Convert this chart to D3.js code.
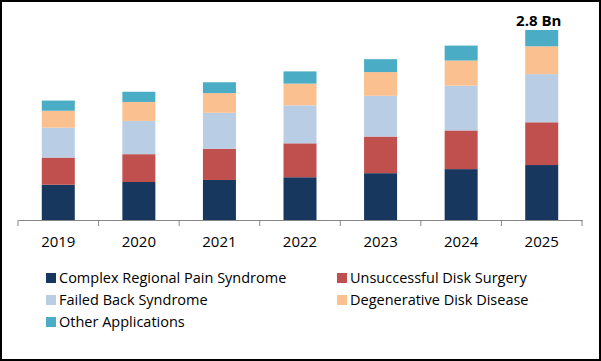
<!DOCTYPE html>
<html>
<head>
<meta charset="utf-8" />
<script src="https://d3js.org/d3.v7.min.js"></script>
<style>
  body { margin: 0; background: #fff; }
  svg text { font-family: "Open Sans", sans-serif; }
</style>
</head>
<body>
<div id="chart"></div>
<script>
// years on the x axis
var years = ["2019", "2020", "2021", "2022", "2023", "2024", "2025"];

// segments, bottom to top (USD Bn)
var series = ["Complex Regional Pain Syndrome", "Unsuccessful Disk Surgery", "Failed Back Syndrome", "Degenerative Disk Disease", "Other Applications"];
var complexRegional = [0.52, 0.56, 0.59, 0.63, 0.69, 0.75, 0.81];
var diskSurgery     = [0.40, 0.41, 0.46, 0.50, 0.54, 0.57, 0.63];
var failedBack      = [0.44, 0.49, 0.53, 0.56, 0.60, 0.66, 0.71];
var degenerative    = [0.25, 0.28, 0.29, 0.32, 0.35, 0.37, 0.41];
var otherApps       = [0.15, 0.15, 0.16, 0.18, 0.19, 0.22, 0.24];
var colors = ["#17375E", "#C0504D", "#B9CDE5", "#FAC090", "#4BACC6"];
var topLabel = "2.8 Bn";

var width = 601, height = 361;
var margin = {top: 30, right: 19, bottom: 141, left: 18};

var svg = d3.select("#chart").append("svg")
    .attr("width", width)
    .attr("height", height);

// frame
svg.append("rect")
    .attr("x", 1).attr("y", 1)
    .attr("width", width - 2).attr("height", height - 2)
    .attr("fill", "#fff")
    .attr("stroke", "#000")
    .attr("stroke-width", 2);

var rows = years.map(function(y, i) {
  var r = {year: y};
  r[series[0]] = complexRegional[i];
  r[series[1]] = diskSurgery[i];
  r[series[2]] = failedBack[i];
  r[series[3]] = degenerative[i];
  r[series[4]] = otherApps[i];
  return r;
});

var stacked = d3.stack().keys(series)(rows);

var x = d3.scaleBand()
    .domain(years)
    .range([margin.left, width - margin.right])
    .padding(0);

var barW = 33;

var y = d3.scaleLinear()
    .domain([0, 2.8])
    .range([height - margin.bottom, margin.top]);

var g = svg.append("g");

g.selectAll("g.layer")
  .data(stacked)
  .enter().append("g")
    .attr("class", "layer")
    .attr("fill", function(d, i) { return colors[i]; })
  .selectAll("rect")
  .data(function(d) { return d; })
  .enter().append("rect")
    .attr("x", function(d) { return x(d.data.year) + x.bandwidth() / 2 - barW / 2; })
    .attr("width", barW)
    .attr("y", function(d) { return y(d[1]); })
    .attr("height", function(d) { return y(d[0]) - y(d[1]); });

// x axis
var axis = svg.append("g")
    .attr("transform", "translate(0," + y(0) + ")")
    .call(d3.axisBottom(x).tickSize(0).tickPadding(16));
axis.select(".domain").attr("stroke", "#868686");
axis.selectAll("text")
    .attr("fill", "#000")
    .style("font-size", "15px")
    .style("font-family", "'Open Sans', sans-serif");

// boundary ticks
var bounds = years.map(function(d) { return x(d); }).concat([x.range()[1]]);
axis.selectAll("line.bound")
  .data(bounds)
  .enter().append("line")
    .attr("class", "bound")
    .attr("x1", function(d) { return d; })
    .attr("x2", function(d) { return d; })
    .attr("y1", 0).attr("y2", 6)
    .attr("stroke", "#868686");

// total label above the last bar
var last = stacked[stacked.length - 1][years.length - 1];
svg.append("text")
    .attr("x", x(years[years.length - 1]) + x.bandwidth() / 2 - 3)
    .attr("y", y(last[1]) - 4.5)
    .attr("text-anchor", "middle")
    .style("font-size", "15px")
    .style("font-weight", "bold")
    .text(topLabel);

// legend
var legend = svg.append("g");
var item = legend.selectAll("g")
  .data(series)
  .enter().append("g")
    .attr("transform", function(d, i) {
      return "translate(" + (i % 2 === 0 ? 46 : 337) + "," + (273 + Math.floor(i / 2) * 22) + ")";
    });
item.append("rect")
    .attr("width", 10).attr("height", 10)
    .attr("fill", function(d, i) { return colors[i]; });
item.append("text")
    .attr("x", 13)
    .attr("y", 9.5)
    .style("font-size", "14.5px")
    .text(function(d) { return d; });
</script>
</body>
</html>
